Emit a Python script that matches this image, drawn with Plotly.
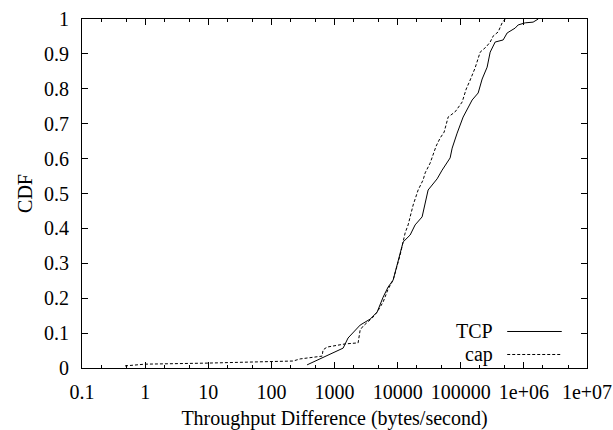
import plotly.graph_objects as go

# CDF of throughput difference
tcp_x = [368, 636, 1370, 1640, 2550, 3660, 4730, 5890, 7070, 8490,
         10960, 12220, 15780, 18930, 24440, 30420, 42270, 50730, 67920, 73100,
         87700, 109000, 151700, 188800, 218300, 261800, 292400, 350800, 469700, 543300,
         728000, 812000, 1050000, 1400000, 1690000]
tcp_y = [0.009, 0.029, 0.057, 0.086, 0.123, 0.140, 0.160, 0.203, 0.232, 0.252,
         0.324, 0.361, 0.381, 0.410, 0.433, 0.510, 0.542, 0.567, 0.602, 0.630,
         0.673, 0.719, 0.768, 0.788, 0.828, 0.862, 0.905, 0.934, 0.940, 0.960,
         0.974, 0.983, 0.989, 0.991, 1.0]

cap_x = [0.48, 0.995, 9.57, 106, 221, 285, 410, 636, 659, 764,
         1472, 2366, 2550, 2840, 3945, 4730, 5890, 7070, 8490, 9820,
         10960, 13150, 14660, 17620, 21130, 25350, 27290, 32730, 36540, 40770,
         47170, 54580, 63150, 81500, 105200, 121800, 140900, 169000, 202900, 252700,
         292400, 326000, 391500, 452800, 505800]
cap_y = [0.006, 0.011, 0.014, 0.017, 0.020, 0.026, 0.029, 0.034, 0.052, 0.060,
         0.069, 0.072, 0.109, 0.120, 0.143, 0.160, 0.189, 0.226, 0.252, 0.289,
         0.324, 0.387, 0.410, 0.467, 0.510, 0.539, 0.559, 0.587, 0.610, 0.636,
         0.659, 0.676, 0.719, 0.734, 0.762, 0.799, 0.825, 0.860, 0.905, 0.920,
         0.934, 0.951, 0.963, 0.989, 1.0]

x_tickvals = [0.1, 1, 10, 100, 1000, 10000, 100000, 1000000, 10000000]
x_ticktext = ["0.1", "1", "10", "100", "1000", "10000", "100000", "1e+06", "1e+07"]

FONT = dict(family="Liberation Serif, Times New Roman, serif", size=20, color="black")

fig = go.Figure()

fig.add_trace(go.Scatter(x=tcp_x, y=tcp_y, mode="lines", name="TCP",
                         line=dict(color="black", width=1)))
fig.add_trace(go.Scatter(x=cap_x, y=cap_y, mode="lines", name="cap",
                         line=dict(color="black", width=1, dash="3px,2px")))

# gnuplot-style key: label on the left, line sample on the right
key = [("TCP", 0.1046, "solid"), ("cap", 0.0387, "3px,2px")]
for label, ky, dash in key:
    fig.add_annotation(x=0.818, y=ky, xref="paper", yref="paper", text=label,
                       showarrow=False, xanchor="right", yanchor="middle", font=FONT)
    fig.add_shape(type="line", xref="paper", yref="paper", x0=0.842, x1=0.950,
                  y0=ky, y1=ky, line=dict(color="black", width=1, dash=dash))

fig.update_xaxes(
    type="log", range=[-1, 7],
    tickvals=x_tickvals, ticktext=x_ticktext,
    ticks="inside", ticklen=6, tickcolor="black",
    minor=dict(dtick="D2", ticks="inside", ticklen=3, tickcolor="black"),
    showline=True, linecolor="black", linewidth=1, mirror="allticks",
    showgrid=False, zeroline=False, automargin=False,
    tickfont=FONT, ticklabelstandoff=6,
    title=dict(text="Throughput Difference (bytes/second)", font=FONT, standoff=10),
)
fig.update_yaxes(
    range=[0, 1], dtick=0.1,
    ticks="inside", ticklen=6, tickcolor="black",
    showline=True, linecolor="black", linewidth=1, mirror="allticks",
    showgrid=False, zeroline=False, automargin=False,
    tickfont=FONT, ticklabelstandoff=8,
    title=dict(text="CDF", font=FONT, standoff=6),
)

fig.update_layout(
    width=613, height=430,
    margin=dict(l=82, r=26, t=19, b=62),
    plot_bgcolor="white", paper_bgcolor="white",
    showlegend=False,
    font=FONT,
)

# drop the default page margin so the figure sits at the window's corner
fig.write_html("out.html", config={"displayModeBar": False},
               post_script="document.body.style.margin='0';document.body.style.overflow='hidden';")
